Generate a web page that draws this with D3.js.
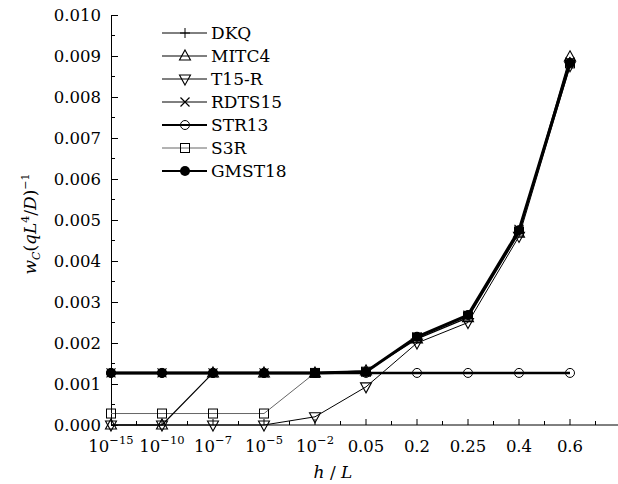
<!DOCTYPE html>
<html>
<head>
<meta charset="UTF-8" />
<style>
  body { margin: 0; background: #fff; }
  svg { display: block; }
  svg text { font-family: "DejaVu Serif", serif; }
</style>
</head>
<body>
<svg width="618" height="484"></svg>
<script src="https://d3js.org/d3.v7.min.js"></script>
<script>
// x categories: [base, exponent] or plain text
const categories = [
  ["10", "−15"], ["10", "−10"], ["10", "−7"], ["10", "−5"], ["10", "−2"],
  ["0.05", ""], ["0.2", ""], ["0.25", ""], ["0.4", ""], ["0.6", ""]
];
const yTicks = [0, 0.001, 0.002, 0.003, 0.004, 0.005, 0.006, 0.007, 0.008, 0.009, 0.010];

const dkq    = [0.00127, 0.00127, 0.00127, 0.00127, 0.00127, 0.00130, 0.00213, 0.00268, 0.00475, 0.00885];
const mitc4  = [0, 0, 0.00127, 0.00127, 0.00127, 0.00132, 0.00210, 0.00262, 0.00468, 0.00898];
const t15r   = [0, 0, 0, 0, 0.00020, 0.00093, 0.00200, 0.00250, 0.00460, 0.00876];
const rdts15 = [0.00127, 0.00127, 0.00127, 0.00127, 0.00127, 0.00130, 0.00215, 0.00268, 0.00477, 0.00885];
const str13  = [0.00127, 0.00127, 0.00127, 0.00127, 0.00127, 0.00127, 0.00127, 0.00127, 0.00127, 0.00127];
const s3r    = [0.00028, 0.00028, 0.00028, 0.00028, 0.00127, 0.00130, 0.00213, 0.00265, 0.00472, 0.00882];
const gmst18 = [0.00127, 0.00127, 0.00127, 0.00127, 0.00127, 0.00130, 0.00215, 0.00268, 0.00475, 0.00883];

const seriesNames = ["DKQ", "MITC4", "T15-R", "RDTS15", "STR13", "S3R", "GMST18"];
const seriesData = [dkq, mitc4, t15r, rdts15, str13, s3r, gmst18];
const markers = ["plus", "triUp", "triDown", "cross", "circle", "square", "dot"];
const lineWidths = [1, 1.2, 1, 1, 2.6, 1, 3];
const lineColors = ["#000", "#000", "#000", "#000", "#000", "#666", "#000"];

const svg = d3.select("svg");
const x = d3.scaleLinear().domain([0, 10]).range([111, 621]);
const y = d3.scaleLinear().domain([0, 0.010]).range([425, 15]);

// y axis
const yAxis = svg.append("g").attr("transform", "translate(111,0)")
  .call(d3.axisLeft(y).tickValues(yTicks).tickSizeInner(-7).tickSizeOuter(0)
    .tickPadding(10).tickFormat(d3.format(".3f")));
yAxis.attr("font-family", null).attr("font-size", 16.5);
yAxis.selectAll("text").attr("fill", "#000");
yAxis.select(".domain").attr("stroke", "#000");
yAxis.selectAll(".tick line").attr("stroke", "#000");
svg.append("g").selectAll("line")
  .data(d3.range(0.0005, 0.010, 0.001)).join("line")
  .attr("x1", 111).attr("x2", 115)
  .attr("y1", d => y(d)).attr("y2", d => y(d)).attr("stroke", "#000");

// x axis
svg.append("line").attr("x1", 111).attr("x2", 618).attr("y1", 425).attr("y2", 425).attr("stroke", "#000");
svg.append("g").selectAll("line")
  .data(d3.range(1, 10)).join("line")
  .attr("x1", d => x(d)).attr("x2", d => x(d)).attr("y1", 425).attr("y2", 419).attr("stroke", "#000");
svg.append("g").selectAll("line")
  .data(d3.range(0.5, 10, 1)).join("line")
  .attr("x1", d => x(d)).attr("x2", d => x(d)).attr("y1", 425).attr("y2", 421).attr("stroke", "#000");
const xl = svg.append("g").selectAll("text").data(categories).join("text")
  .attr("x", (d, i) => x(i)).attr("y", 452).attr("text-anchor", "middle").attr("font-size", 16.5);
xl.each(function(d) {
  const t = d3.select(this);
  t.append("tspan").text(d[0]);
  if (d[1]) t.append("tspan").attr("dy", -8).attr("font-size", 11.5).text(d[1]);
});

// axis titles
const xt = svg.append("text").attr("x", 333).attr("y", 478).attr("text-anchor", "middle").attr("font-size", 17);
xt.append("tspan").attr("font-style", "italic").text("h");
xt.append("tspan").text(" / ");
xt.append("tspan").attr("font-style", "italic").text("L");

const yt = svg.append("text").attr("transform", "translate(36,224) rotate(-90)")
  .attr("text-anchor", "middle").attr("font-size", 17);
yt.append("tspan").attr("font-style", "italic").text("w");
yt.append("tspan").attr("font-style", "italic").attr("font-size", 11).attr("dy", 4).text("C");
yt.append("tspan").attr("dy", -4).text("(");
yt.append("tspan").attr("font-style", "italic").text("qL");
yt.append("tspan").attr("font-size", 11).attr("dy", -7).text("4");
yt.append("tspan").attr("dy", 7).text("/");
yt.append("tspan").attr("font-style", "italic").text("D");
yt.append("tspan").text(")");
yt.append("tspan").attr("font-size", 11).attr("dy", -7).text("−1");

function drawMarker(g, type, cx, cy) {
  const s = 5;
  if (type === "plus") {
    g.append("path").attr("d", `M${cx - s},${cy}H${cx + s}M${cx},${cy - s}V${cy + s}`)
      .attr("stroke", "#000").attr("stroke-width", 1).attr("fill", "none");
  } else if (type === "cross") {
    g.append("path").attr("d", `M${cx - 4.5},${cy - 4.5}L${cx + 4.5},${cy + 4.5}M${cx - 4.5},${cy + 4.5}L${cx + 4.5},${cy - 4.5}`)
      .attr("stroke", "#000").attr("stroke-width", 1.2).attr("fill", "none");
  } else if (type === "triUp") {
    g.append("path").attr("d", `M${cx},${cy - 6}L${cx + 5.5},${cy + 4}L${cx - 5.5},${cy + 4}Z`)
      .attr("stroke", "#000").attr("stroke-width", 1.1).attr("fill", "none");
  } else if (type === "triDown") {
    g.append("path").attr("d", `M${cx},${cy + 6}L${cx + 5.5},${cy - 4}L${cx - 5.5},${cy - 4}Z`)
      .attr("stroke", "#000").attr("stroke-width", 1.1).attr("fill", "none");
  } else if (type === "circle") {
    g.append("circle").attr("cx", cx).attr("cy", cy).attr("r", 4.5)
      .attr("stroke", "#000").attr("stroke-width", 1).attr("fill", "none");
  } else if (type === "square") {
    g.append("rect").attr("x", cx - 4.5).attr("y", cy - 4.5).attr("width", 9).attr("height", 9)
      .attr("stroke", "#000").attr("stroke-width", 1).attr("fill", "none");
  } else if (type === "dot") {
    g.append("circle").attr("cx", cx).attr("cy", cy).attr("r", 5).attr("fill", "#000");
  }
}

// series lines (thin first, thick last)
const line = d3.line().x((d, i) => x(i)).y(d => y(d));
const order = [5, 0, 1, 2, 3, 4, 6];
const plot = svg.append("g");
order.forEach(k => {
  plot.append("path").datum(seriesData[k]).attr("d", line)
    .attr("fill", "none").attr("stroke", lineColors[k]).attr("stroke-width", lineWidths[k])
    .attr("stroke-linejoin", "round");
});
order.forEach(k => {
  const g = plot.append("g");
  seriesData[k].forEach((v, i) => drawMarker(g, markers[k], x(i), y(v)));
});

// legend
const legend = svg.append("g");
seriesNames.forEach((name, k) => {
  const ly = 33 + k * 23;
  legend.append("line").attr("x1", 162).attr("x2", 207).attr("y1", ly).attr("y2", ly)
    .attr("stroke", lineColors[k]).attr("stroke-width", Math.min(lineWidths[k], 2));
  drawMarker(legend, markers[k], 185, ly);
  legend.append("text").attr("x", 211).attr("y", ly + 6).attr("font-size", 17).text(name);
});
</script>
</body>
</html>
